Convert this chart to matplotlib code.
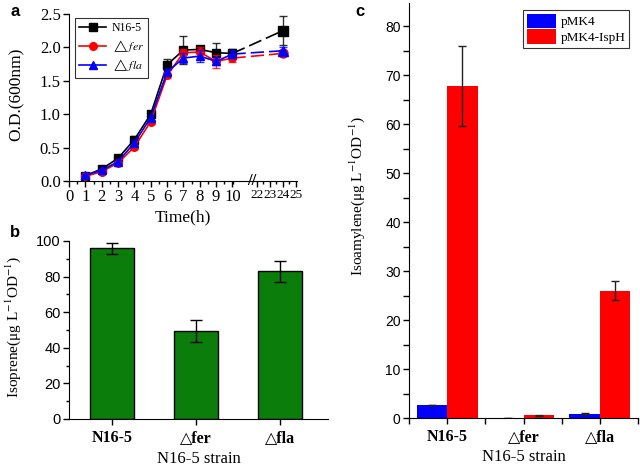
import matplotlib.pyplot as plt
import numpy as np
from matplotlib.ticker import MultipleLocator, FixedLocator

plt.rcParams['font.family'] = ['Liberation Serif', 'DejaVu Serif']
plt.rcParams['mathtext.fontset'] = 'stix'

# panel a: growth curves
time = [1, 2, 3, 4, 5, 6, 7, 8, 9, 10, 24]
n165 = [0.08, 0.18, 0.34, 0.62, 1.00, 1.74, 1.96, 1.97, 1.92, 1.91, 2.25]
n165_err = [0.02, 0.03, 0.03, 0.06, 0.04, 0.08, 0.21, 0.04, 0.14, 0.06, 0.22]
fer = [0.07, 0.14, 0.27, 0.51, 0.89, 1.58, 1.92, 1.93, 1.79, 1.84, 1.91]
fer_err = [0.02, 0.02, 0.03, 0.03, 0.03, 0.04, 0.06, 0.07, 0.10, 0.06, 0.04]
fla = [0.09, 0.16, 0.29, 0.57, 0.95, 1.63, 1.84, 1.87, 1.79, 1.90, 1.95]
fla_err = [0.02, 0.02, 0.03, 0.04, 0.04, 0.04, 0.08, 0.09, 0.06, 0.06, 0.05]
time_ticks = [0, 1, 2, 3, 4, 5, 6, 7, 8, 9, 10, 22, 23, 24, 25]

# panel b: isoprene
strains = ['N16-5', '△fer', '△fla']
isoprene = [95.8, 49.5, 83.0]
isoprene_err = [3.2, 6.0, 5.8]

# panel c: isoamylene
pmk4 = [2.7, 0.1, 0.8]
pmk4_err = [0.0, 0.0, 0.2]
isph = [67.8, 0.6, 26.0]
isph_err = [8.2, 0.1, 1.9]

W, H = 640, 466
fig = plt.figure(figsize=(6.4, 4.66), dpi=100)


def box(l, t, r, b):
    return [l / W, (H - b) / H, (r - l) / W, (b - t) / H]


# broken time axis: 0-10 linear, 10-22 squeezed, 22-25 linear
def fwd(t):
    t = np.asarray(t, dtype=float)
    return np.where(t <= 10, t, np.where(t < 22, 10 + (t - 10) * 1.5 / 12, 11.5 + (t - 22) * 0.79))


def inv(p):
    p = np.asarray(p, dtype=float)
    return np.where(p <= 10, p, np.where(p < 11.5, 10 + (p - 10) * 12 / 1.5, 22 + (p - 11.5) / 0.79))


# ---- a ----
ax = fig.add_axes(box(69, 14, 297, 181))
ax.set_xscale('function', functions=(fwd, inv))
series = [(n165, n165_err, 'black', 's', 'N16-5'),
          (fer, fer_err, 'red', 'o', '$\\triangle\\mathit{fer}$'),
          (fla, fla_err, 'blue', '^', '$\\triangle\\mathit{fla}$')]
for y, e, c, m, lab in series:
    ax.errorbar(time, y, yerr=e, fmt='none', ecolor=c, elinewidth=1, capsize=3, capthick=1, alpha=0.8)
    ax.plot(time[:10], y[:10], color=c, marker=m, markersize=5.5, lw=1.2, label=lab)
    ax.plot(time[9:], y[9:], color=c, lw=1.2, ls=(0, (8, 3)))
    ax.plot(time[10:], y[10:], color=c, marker=m, markersize=6.5, lw=0)
ax.set_xlim(0, 25.1)
ax.set_ylim(0, 2.5)
ax.xaxis.set_major_locator(FixedLocator(time_ticks))
ax.xaxis.set_minor_locator(FixedLocator([0.5 + i for i in range(11)] + [22.5, 23.5, 24.5]))
ax.set_xticklabels([str(t) for t in time_ticks])
ax.yaxis.set_major_locator(MultipleLocator(0.5))
ax.yaxis.set_major_formatter(plt.FormatStrFormatter('%.1f'))
ax.tick_params(labelsize=12, direction='out', length=4, width=1, pad=2)
ax.tick_params(which='minor', direction='out', length=2.5, width=1)
for lab in ax.get_xticklabels()[11:]:
    lab.set_fontsize(9.5)
for s in ['top', 'right']:
    ax.spines[s].set_visible(False)
ax.text(19.5, 0, '//', fontsize=12, ha='center', va='center', fontweight='bold')
ax.set_ylabel('O.D.(600nm)', fontsize=12.5)
ax.yaxis.set_label_coords(-0.193, 0.52)
ax.set_xlabel('Time(h)', fontsize=12.5)
ax.xaxis.set_label_coords(0.5, -0.17)
leg = ax.legend(loc='upper left', bbox_to_anchor=(0.0, 1.01), fontsize=8.5, frameon=True,
                fancybox=False, edgecolor='black', handlelength=2.3, borderpad=0.35,
                labelspacing=0.3, handletextpad=0.5)
leg.get_frame().set_linewidth(0.8)
fig.text(15 / W, 1 - 12 / H, 'a', fontsize=12, fontweight='bold', family='Liberation Sans', ha='center', va='center')

# ---- b ----
ax = fig.add_axes(box(69, 241, 328, 419))
x = np.arange(len(strains))
ax.bar(x, isoprene, width=0.52, color='#0a7d0a', edgecolor='black', linewidth=1)
ax.errorbar(x, isoprene, yerr=isoprene_err, fmt='none', ecolor='black', elinewidth=1, capsize=4, capthick=1)
ax.set_xlim(-0.512, 2.571)
ax.set_ylim(0, 100)
ax.set_xticks(x)
ax.set_xticklabels(strains, fontweight='bold', fontsize=11.5, family=['Liberation Serif', 'DejaVu Sans'])
ax.yaxis.set_major_locator(MultipleLocator(20))
ax.yaxis.set_minor_locator(MultipleLocator(10))
ax.tick_params(axis='y', labelsize=10.5, direction='out', length=4, width=1, pad=2)
for lab in ax.get_yticklabels():
    lab.set_family('Liberation Sans')
ax.tick_params(axis='x', direction='out', length=4, width=1, pad=4)
ax.tick_params(which='minor', direction='out', length=2.5, width=1)
for s in ['top', 'right']:
    ax.spines[s].set_visible(False)
ax.set_ylabel('Isoprene(μg L$^{-1}$OD$^{-1}$)', fontsize=11)
ax.yaxis.set_label_coords(-0.178, 0.517)
ax.set_xlabel('N16-5 strain', fontsize=12)
ax.xaxis.set_label_coords(0.5, -0.18)
fig.text(15 / W, 1 - 232 / H, 'b', fontsize=12, fontweight='bold', family='Liberation Sans', ha='center', va='center')

# ---- c ----
ax = fig.add_axes(box(409, 3, 638, 418))
ax.bar(x - 0.2, pmk4, width=0.4, color='#0000ff', label='pMK4')
ax.bar(x + 0.2, isph, width=0.4, color='#ff0000', label='pMK4-IspH')
ax.errorbar(x - 0.2, pmk4, yerr=pmk4_err, fmt='none', ecolor='#222222', elinewidth=1, capsize=3, capthick=1)
ax.errorbar(x + 0.2, isph, yerr=isph_err, fmt='none', ecolor='#222222', elinewidth=1, capsize=3, capthick=1)
ax.set_xlim(-0.5, 2.5)
ax.set_ylim(0, 84.7)
ax.set_xticks(x)
ax.set_xticks([-0.5, 0.5, 1.5, 2.5], minor=True)
ax.set_xticklabels(strains, fontweight='bold', fontsize=11.5, family=['Liberation Serif', 'DejaVu Sans'])
ax.yaxis.set_major_locator(MultipleLocator(10))
ax.yaxis.set_minor_locator(MultipleLocator(5))
ax.tick_params(axis='y', labelsize=10, direction='out', length=4, width=1, pad=2)
for lab in ax.get_yticklabels():
    lab.set_family('Liberation Sans')
ax.tick_params(axis='x', direction='out', length=4, width=1, pad=4)
ax.tick_params(which='minor', direction='out', length=4, width=1)
for s in ['top', 'right']:
    ax.spines[s].set_visible(False)
ax.set_ylabel('Isoamylene(μg L$^{-1}$OD$^{-1}$)', fontsize=11)
ax.yaxis.set_label_coords(-0.183, 0.535)
ax.set_xlabel('N16-5 strain', fontsize=12)
ax.xaxis.set_label_coords(0.5, -0.074)
leg = ax.legend(loc='upper right', bbox_to_anchor=(0.99, 1.0), fontsize=9.5, frameon=True,
                fancybox=False, edgecolor='black', handlelength=2.2, handleheight=1.3,
                borderpad=0.3, labelspacing=0.1, handletextpad=0.3)
leg.get_frame().set_linewidth(0.8)
fig.text(360 / W, 1 - 11 / H, 'c', fontsize=12, fontweight='bold', family='Liberation Sans', ha='center', va='center')

fig.savefig('out.png', dpi=100)
